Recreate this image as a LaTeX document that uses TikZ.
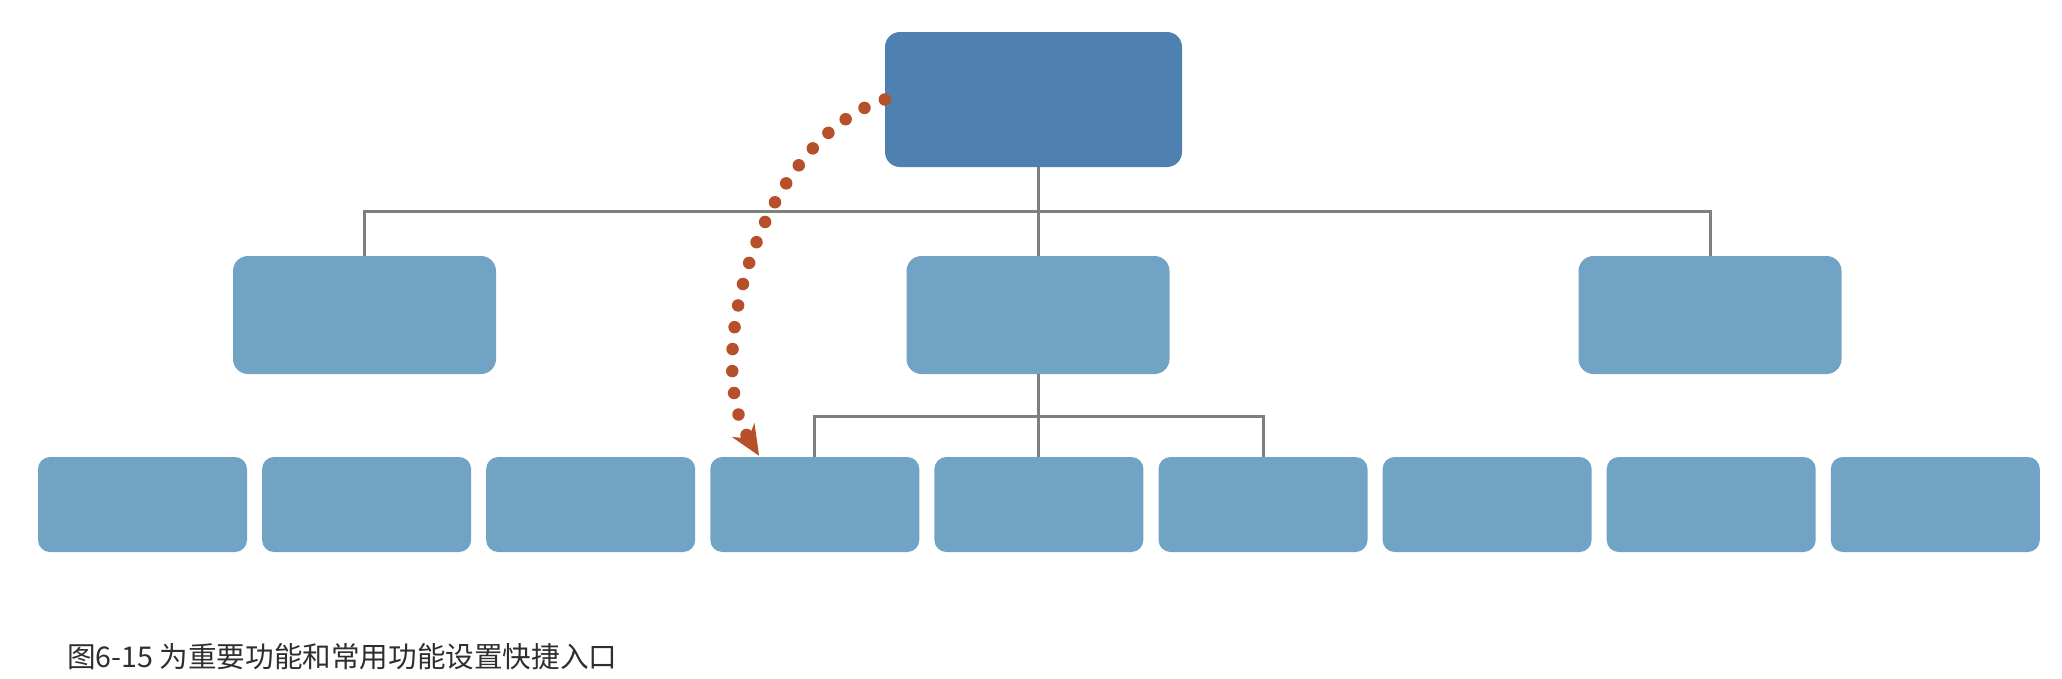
\documentclass[tikz,border=0pt]{standalone}
\usepackage{fontspec}
\newfontfamily\cjk{Noto Sans CJK SC}
\usetikzlibrary{arrows.meta,calc}
\definecolor{topblue}{HTML}{4E81B0}
\definecolor{boxblue}{HTML}{71A3C5}
\definecolor{linegray}{HTML}{7F7F7F}
\definecolor{dotred}{HTML}{B5502A}
\definecolor{captext}{HTML}{2E2E2E}
\begin{document}
\begin{tikzpicture}[x=1pt,y=-1pt,
  topbox/.style={fill=topblue, rounded corners=15pt, inner sep=0pt, minimum width=297pt, minimum height=135pt},
  midbox/.style={fill=boxblue, rounded corners=15pt, inner sep=0pt, minimum width=263pt, minimum height=118pt},
  lowbox/.style={fill=boxblue, rounded corners=12pt, inner sep=0pt, minimum width=209pt, minimum height=95pt},
  conn/.style={draw=linegray, line width=3pt},
  dotline/.style={draw=dotred, line width=12.5pt, line cap=round, dash pattern=on 0pt off 22pt},
  caption/.style={font=\cjk\fontsize{28.6}{34}\selectfont, text=captext, inner sep=0pt, anchor=base west}
]
\useasboundingbox (0,0) rectangle (2062,678);
% top
\node[topbox] (top) at (1033.5,99.5) {};
% middle row
\node[midbox] (m1) at (364.5,315) {};
\node[midbox] (m2) at (1038,315) {};
\node[midbox] (m3) at (1710,315) {};
% bottom row
\foreach \i in {1,...,9} {
  \node[lowbox] (b\i) at ({38+104.5+(\i-1)*224.1},504.5) {};
}
% connectors
\coordinate (j1) at (1038,211);
\coordinate (j2) at (1038,416);
\draw[conn] (top.south -| j1) -- (j1);
\draw[conn] (m1.north) |- (j1) -| (m3.north);
\draw[conn] (j1) -- (m2.north -| j1);
\draw[conn] (m2.south -| j2) -- (j2);
\draw[conn] (b4.north) |- (j2) -| (b6.north);
\draw[conn] (j2) -- (b5.north -| j2);
% dotted arrow
\coordinate (arrEnd) at ($(b4.north west)+(49,-1)$);
\draw[dotline, -{Stealth[length=30pt,width=26pt,fill=dotred]}] (top.west) .. controls (760,140) and (700,360) .. (arrEnd);
% caption
\node[caption] (cap) at (67,667) {图6-15 为重要功能和常用功能设置快捷入口};
\end{tikzpicture}
\end{document}
